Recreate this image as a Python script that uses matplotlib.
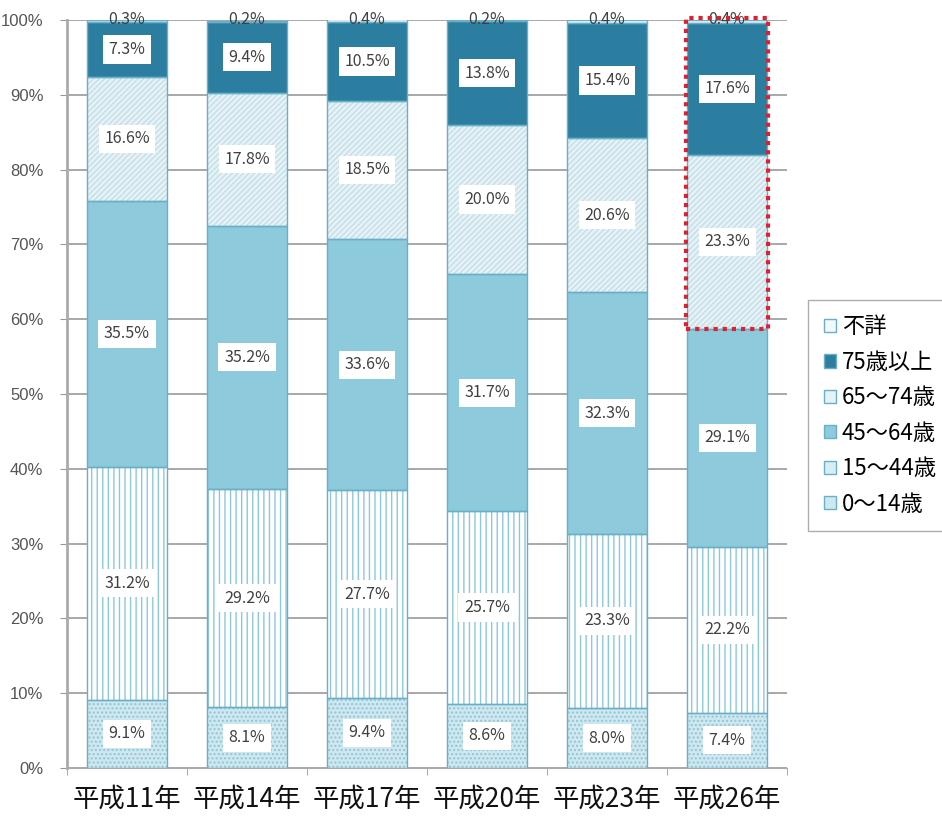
import numpy as np
import matplotlib.pyplot as plt
from matplotlib.patches import Rectangle

plt.rcParams['font.family'] = ['Noto Sans CJK JP', 'DejaVu Sans']
plt.rcParams['hatch.linewidth'] = 1.0

years = ['平成11年', '平成14年', '平成17年', '平成20年', '平成23年', '平成26年']
groups = ['0～14歳', '15～44歳', '45～64歳', '65～74歳', '75歳以上', '不詳']
age_0_14 = [9.1, 8.1, 9.4, 8.6, 8.0, 7.4]
age_15_44 = [31.2, 29.2, 27.7, 25.7, 23.3, 22.2]
age_45_64 = [35.5, 35.2, 33.6, 31.7, 32.3, 29.1]
age_65_74 = [16.6, 17.8, 18.5, 20.0, 20.6, 23.3]
age_75 = [7.3, 9.4, 10.5, 13.8, 15.4, 17.6]
unknown = [0.3, 0.2, 0.4, 0.2, 0.4, 0.4]
series = [age_0_14, age_15_44, age_45_64, age_65_74, age_75, unknown]

faces = ['#cfe7ef', '#ffffff', '#8ccadc', '#e6f2f6', '#2b7ea0', '#f2f9fb']
hatches = ['....', '|||', None, '//////', None, None]
hatch_cols = ['#8fc6d8', '#8cc8dc', '#8ccadc', '#c4dfe8', '#2b7ea0', '#f2f9fb']
border = '#6aafc8'

fig = plt.figure(figsize=(9.42, 8.19), dpi=100)
ax = fig.add_axes([0.0711, 0.0623, 0.7644, 0.9133])

x = np.arange(len(years))
w = 0.67
bottom = np.zeros(len(years))
handles = []
for i, vals in enumerate(series):
    vals = np.array(vals)
    ax.bar(x, vals, w, bottom=bottom, color=faces[i], hatch=hatches[i],
           edgecolor=hatch_cols[i], linewidth=0, zorder=2)
    ax.bar(x, vals, w, bottom=bottom, fill=False, edgecolor=border,
           linewidth=1.0, zorder=3)
    for j, v in enumerate(vals):
        if i == 5:
            ax.text(x[j], 100, f'{v:.1f}%', ha='center', va='center',
                    fontsize=11.5, color='#404040', zorder=5)
        else:
            ax.text(x[j], bottom[j] + v / 2, f'{v:.1f}%', ha='center', va='center',
                    fontsize=11.5, color='#404040', zorder=5,
                    bbox=dict(boxstyle='square,pad=0.35', fc='white', ec='none'))
    bottom += vals
    handles.append(Rectangle((0, 0), 1, 1, fc=faces[i] if i != 1 else '#d8eef5',
                             ec=border, lw=1))

# highlight box
hl_bottom = age_0_14[5] + age_15_44[5] + age_45_64[5]
ax.add_patch(Rectangle((5 - 0.345, hl_bottom), 0.69, 100 - hl_bottom + 0.3, fill=False,
                       ec='#e0202e', ls=(0, (1, 1.2)), lw=3, zorder=6, clip_on=False))

ax.set_xlim(-0.5, 5.5)
ax.set_ylim(0, 100)
ax.set_yticks(np.arange(0, 101, 10))
ax.set_yticklabels([f'{t}%' for t in range(0, 101, 10)], fontsize=12, color='#555555',
                   family=['Liberation Sans'])
ax.set_xticks(x)
ax.set_xticklabels(years, fontsize=19, color='#111111')
ax.set_xticks(np.arange(-0.5, 6, 1), minor=True)
ax.tick_params(axis='x', which='major', length=0, pad=13)
ax.tick_params(axis='x', which='minor', length=5, color='#999999')
ax.tick_params(axis='y', length=5, pad=12, color='#999999')
ax.grid(axis='y', color='#9a9a9a', lw=1.2, zorder=0)
for s in ['top', 'right']:
    ax.spines[s].set_visible(False)
ax.spines['left'].set_color('#aaaaaa')
ax.spines['left'].set_linewidth(2)
ax.spines['bottom'].set_color('#aaaaaa')

leg = fig.legend(handles[::-1], groups[::-1], loc='upper left',
                 bbox_to_anchor=(0.858, 0.634), fontsize=16, frameon=True,
                 fancybox=False, edgecolor='#999999', handlelength=0.55,
                 handleheight=0.55, handletextpad=0.25, labelspacing=0.56,
                 borderpad=0.7, borderaxespad=0)

fig.savefig('out.png', dpi=100)
